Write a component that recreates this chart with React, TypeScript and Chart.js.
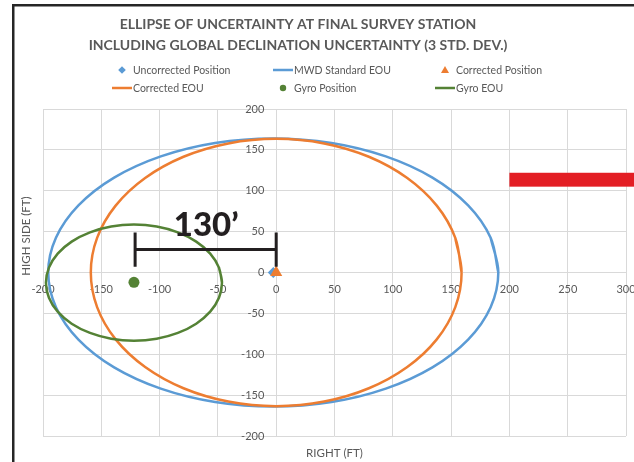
import { useEffect, useRef } from 'react';
import { Chart, registerables } from 'chart.js';

Chart.register(...registerables);

// ---------------- data ----------------
const chartTitle = [
  'ELLIPSE OF UNCERTAINTY AT FINAL SURVEY STATION',
  'INCLUDING GLOBAL DECLINATION UNCERTAINTY (3 STD. DEV.)',
];
const xAxisTitle = 'RIGHT (FT)';
const yAxisTitle = 'HIGH SIDE (FT)';
const xTickValues = [-200, -150, -100, -50, 0, 50, 100, 150, 200, 250, 300];
const yTickValues = [-200, -150, -100, -50, 0, 50, 100, 150, 200];

const seriesLabels = [
  'Uncorrected Position',
  'MWD Standard EOU',
  'Corrected Position',
  'Corrected EOU',
  'Gyro Position',
  'Gyro EOU',
];

const uncorrectedPosX = [-2.5];
const uncorrectedPosY = [0];
const correctedPosX = [0];
const correctedPosY = [0];
const gyroPosX = [-122];
const gyroPosY = [-12];

const mwdEouX = [190.5, 183.9, 164.6, 134, 94, 47.4, -2.5, -52.4, -99, -139, -169.6, -188.9, -195.5, -188.9, -169.6, -139, -99, -52.4, -2.5, 47.4, 94, 134, 164.6, 183.9, 190.5, 183.9];
const mwdEouY = [0, 42.4, 82, 116, 142, 158.4, 164, 158.4, 142, 116, 82, 42.4, 0, -42.4, -82, -116, -142, -158.4, -164, -158.4, -142, -116, -82, -42.4, 0, 42.4];

const correctedEouX = [159, 153.6, 137.7, 112.4, 79.5, 41.1, 0, -41.1, -79.5, -112.4, -137.7, -153.6, -159, -153.6, -137.7, -112.4, -79.5, -41.1, 0, 41.1, 79.5, 112.4, 137.7, 153.6, 159, 153.6];
const correctedEouY = [0, 42.3, 81.8, 115.6, 141.6, 157.9, 163.5, 157.9, 141.6, 115.6, 81.8, 42.3, 0, -42.3, -81.8, -115.6, -141.6, -157.9, -163.5, -157.9, -141.6, -115.6, -81.8, -42.3, 0, 42.3];

const gyroEouX = [-46.5, -49.1, -56.6, -68.6, -84.3, -102.5, -122, -141.5, -159.7, -175.4, -187.4, -194.9, -197.5, -194.9, -187.4, -175.4, -159.7, -141.5, -122, -102.5, -84.3, -68.6, -56.6, -49.1, -46.5, -49.1];
const gyroEouY = [-12.4, 6, 23.1, 37.8, 49.1, 56.2, 58.6, 56.2, 49.1, 37.8, 23.1, 6, -12.4, -30.8, -47.9, -62.6, -73.9, -81, -83.4, -81, -73.9, -62.6, -47.9, -30.8, -12.4, 6];

// annotation (distance between gyro and corrected position)
const distanceLabel = '130\u2019';
const distanceBarX = [-121, 0];
const distanceBarY = 28;
const distanceCapY = [7, 49];
const distanceLabelPos = { x: -60, y: 45 };
// red marker bar at right
const redBarX = 200;
const redBarY = [105, 122];

// ---------------- styles ----------------
const BLUE = '#5b9bd5';
const ORANGE = '#ed7d31';
const GREEN = '#548235';
const GRID = '#d9d9d9';
const TEXT = '#595959';
const INK = '#231f20';
const FONT = 'Lato, "Open Sans", sans-serif';
const LINE_W = 2.5;
const TENSION = 0.35;

const toPoints = (xs: number[], ys: number[]) => xs.map((x, i) => ({ x, y: ys[i] }));

const decorPlugin = {
  id: 'decor',
  afterDraw(chart: any) {
    const ctx = chart.ctx as CanvasRenderingContext2D;
    const xs = chart.scales.x;
    const ys = chart.scales.y;
    ctx.save();

    // title
    ctx.fillStyle = TEXT;
    ctx.font = `bold 14px ${FONT}`;
    ctx.textAlign = 'center';
    ctx.textBaseline = 'alphabetic';
    chartTitle.forEach((line, i) => ctx.fillText(line, 298, 29 + i * 20.5));

    // legend
    const cols = [112, 273, 435];
    const rows = [70, 88];
    ctx.font = `10.5px ${FONT}`;
    ctx.textAlign = 'left';
    ctx.textBaseline = 'middle';
    chart.data.datasets.forEach((ds: any, i: number) => {
      const cx = cols[i % 3];
      const cy = rows[Math.floor(i / 3)];
      const color = ds.borderColor;
      if (ds.showLine) {
        ctx.strokeStyle = color;
        ctx.lineWidth = 2.5;
        ctx.beginPath();
        ctx.moveTo(cx, cy);
        ctx.lineTo(cx + 20, cy);
        ctx.stroke();
      } else {
        const mx = cx + 10;
        ctx.fillStyle = ds.backgroundColor;
        ctx.beginPath();
        if (ds.pointStyle === 'rectRot') {
          ctx.moveTo(mx, cy - 3.8);
          ctx.lineTo(mx + 3.8, cy);
          ctx.lineTo(mx, cy + 3.8);
          ctx.lineTo(mx - 3.8, cy);
        } else if (ds.pointStyle === 'triangle') {
          ctx.moveTo(mx, cy - 4);
          ctx.lineTo(mx + 4, cy + 3);
          ctx.lineTo(mx - 4, cy + 3);
        } else {
          ctx.arc(mx, cy, 3.2, 0, Math.PI * 2);
        }
        ctx.closePath();
        ctx.fill();
      }
      ctx.fillStyle = TEXT;
      ctx.fillText(ds.label, cx + 21, cy + 0.5);
    });

    // axis titles
    ctx.font = `11.5px ${FONT}`;
    ctx.textAlign = 'center';
    ctx.textBaseline = 'middle';
    ctx.fillText(xAxisTitle, (chart.chartArea.left + chart.chartArea.right) / 2, 453);
    ctx.save();
    ctx.translate(26, 236);
    ctx.rotate(-Math.PI / 2);
    ctx.fillText(yAxisTitle, 0, 0);
    ctx.restore();

    // distance annotation
    ctx.strokeStyle = INK;
    ctx.lineWidth = 3;
    ctx.beginPath();
    const bx1 = xs.getPixelForValue(distanceBarX[0]);
    const bx2 = xs.getPixelForValue(distanceBarX[1]);
    const by = ys.getPixelForValue(distanceBarY);
    const cTop = ys.getPixelForValue(distanceCapY[1]);
    const cBot = ys.getPixelForValue(distanceCapY[0]);
    ctx.moveTo(bx1, by);
    ctx.lineTo(bx2, by);
    ctx.moveTo(bx1, cTop);
    ctx.lineTo(bx1, cBot);
    ctx.moveTo(bx2, cTop);
    ctx.lineTo(bx2, cBot);
    ctx.stroke();
    ctx.fillStyle = INK;
    ctx.font = `900 33px ${FONT}`;
    ctx.textAlign = 'center';
    ctx.textBaseline = 'alphabetic';
    ctx.fillText(distanceLabel, xs.getPixelForValue(distanceLabelPos.x), ys.getPixelForValue(distanceLabelPos.y));

    // red bar
    ctx.fillStyle = '#e31e24';
    const rx = xs.getPixelForValue(redBarX);
    const ry1 = ys.getPixelForValue(redBarY[1]);
    const ry2 = ys.getPixelForValue(redBarY[0]);
    ctx.fillRect(rx, ry1, chart.width - rx, ry2 - ry1);

    // frame
    ctx.fillStyle = '#262626';
    ctx.fillRect(12, 4, chart.width - 12, 2.5);
    ctx.fillRect(12, 4, 2.5, chart.height - 4);
    ctx.restore();
  },
};

export default function App() {
  const ref = useRef<HTMLCanvasElement | null>(null);
  useEffect(() => {
    if (!ref.current) return;
    const chart = new Chart(ref.current, {
      type: 'scatter',
      data: {
        datasets: [
          { label: seriesLabels[0], data: toPoints(uncorrectedPosX, uncorrectedPosY), showLine: false, pointStyle: 'rectRot', pointRadius: 5.5, backgroundColor: BLUE, borderColor: BLUE, borderWidth: 0, order: 5 },
          { label: seriesLabels[1], data: toPoints(mwdEouX, mwdEouY), showLine: true, pointRadius: 0, borderColor: BLUE, backgroundColor: BLUE, borderWidth: LINE_W, tension: TENSION, fill: false, order: 4 },
          { label: seriesLabels[2], data: toPoints(correctedPosX, correctedPosY), showLine: false, pointStyle: 'triangle', pointRadius: 7, backgroundColor: ORANGE, borderColor: ORANGE, borderWidth: 0, order: 3 },
          { label: seriesLabels[3], data: toPoints(correctedEouX, correctedEouY), showLine: true, pointRadius: 0, borderColor: ORANGE, backgroundColor: ORANGE, borderWidth: LINE_W, tension: TENSION, fill: false, order: 2 },
          { label: seriesLabels[4], data: toPoints(gyroPosX, gyroPosY), showLine: false, pointStyle: 'circle', pointRadius: 5.5, backgroundColor: GREEN, borderColor: GREEN, borderWidth: 0, order: 1 },
          { label: seriesLabels[5], data: toPoints(gyroEouX, gyroEouY), showLine: true, pointRadius: 0, borderColor: GREEN, backgroundColor: GREEN, borderWidth: LINE_W, tension: TENSION, fill: false, order: 0 },
        ],
      } as any,
      options: {
        responsive: false,
        animation: false,
        events: [],
        layout: { padding: { left: 43, top: 109, right: 8, bottom: 26 } },
        plugins: {
          legend: { display: false },
          title: { display: false },
          tooltip: { enabled: false },
        },
        scales: {
          x: {
            type: 'linear',
            min: -200,
            max: 300,
            position: { y: 0 } as any,
            afterBuildTicks: (s: any) => { s.ticks = xTickValues.map((v) => ({ value: v })); },
            afterFit: (s: any) => { s.paddingLeft = 0; s.paddingRight = 0; },
            grid: { color: GRID, lineWidth: 1, drawTicks: false },
            border: { color: GRID },
            ticks: { color: TEXT, font: { family: FONT, size: 11 }, padding: 10, maxRotation: 0, autoSkip: false },
          },
          y: {
            type: 'linear',
            min: -200,
            max: 200,
            // labels sit just left of the x = 0 line, as in the original
            position: { x: -10.2 } as any,
            afterBuildTicks: (s: any) => { s.ticks = yTickValues.map((v) => ({ value: v })); },
            afterFit: (s: any) => { s.paddingTop = 0; s.paddingBottom = 0; },
            grid: { color: GRID, lineWidth: 1, drawTicks: false },
            border: { display: false },
            ticks: { color: TEXT, font: { family: FONT, size: 11 }, padding: 0, autoSkip: false },
          },
        },
      } as any,
      plugins: [decorPlugin],
    });
    return () => chart.destroy();
  }, []);
  return (
    <div style={{ position: 'absolute', left: 0, top: 0, width: 634, height: 462, background: '#fff' }}>
      <canvas ref={ref} width={634} height={462} style={{ display: 'block', width: 634, height: 462 }} />
    </div>
  );
}
